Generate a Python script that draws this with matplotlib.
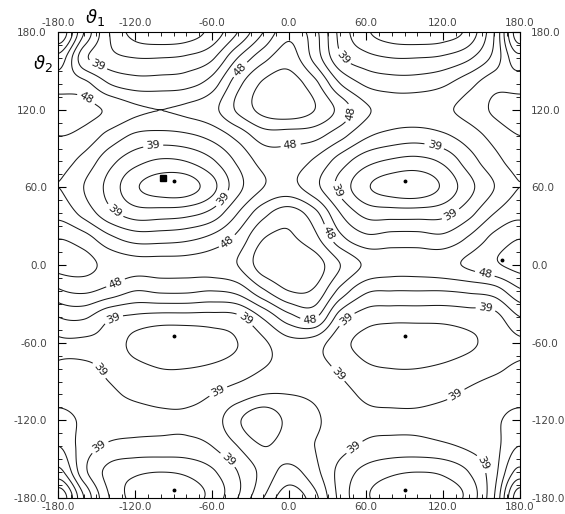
import numpy as np
import matplotlib
matplotlib.use('Agg')
import matplotlib.pyplot as plt
from matplotlib.ticker import MultipleLocator

# ---- data: energy on a 20 degree grid ----
theta1 = np.arange(-180, 180, 20)          # columns
theta2_rows = np.arange(180, -180, -20)    # rows, top to bottom
r180 = [56, 45, 36, 32, 31, 31.5, 34, 39, 45, 50, 46, 38, 33.5, 31.5, 31, 31.5, 34, 42]
r160 = [50, 40, 37, 36, 36, 36.5, 38.5, 45, 50, 52.5, 47, 39.5, 37, 36, 36, 36.5, 38.5, 43]
r140 = [47, 46, 42, 40.5, 40.5, 41, 43.5, 50, 54.5, 55.5, 52, 45, 41.5, 40.5, 40.5, 41.5, 44, 47]
r120 = [50, 49, 47.5, 45.5, 45, 45.5, 47, 51.5, 55, 56, 54, 50, 45.5, 44, 44, 44.5, 46, 48.5]
r100 = [48, 47, 44, 41.5, 41, 41.5, 43, 46, 49.5, 49.5, 49, 46, 42.5, 41, 40.5, 41.5, 43.5, 46]
r80 = [46, 44, 40, 37, 35.5, 36, 38.5, 42.5, 46, 46.5, 44.5, 40.5, 37, 35.5, 35, 36.5, 40.5, 44]
r60 = [45, 42, 38, 33.5, 31.5, 31.5, 35, 41, 45, 46, 43, 38, 33.5, 31.5, 31, 33.5, 38, 42]
r40 = [47, 44, 40, 37.5, 37.5, 38, 40, 45, 50, 52.5, 49, 42, 38, 37.5, 37.5, 38, 41, 45]
r20 = [51, 49.5, 46, 44, 44, 44.5, 46, 49, 54, 54.5, 52, 46, 43, 43.5, 43.5, 43, 45.5, 49]
r0 = [52, 52, 50, 49, 49, 49, 49.5, 51, 55.5, 56, 55.5, 51, 47.5, 46.5, 46.5, 47, 48.5, 50.5]
rm20 = [47.5, 48.5, 47, 45, 45.5, 45.5, 45, 46, 50.5, 54, 53.5, 47, 42.5, 42, 42, 42, 42.5, 43.5]
rm40 = [42, 42.5, 39.5, 38.5, 38, 38, 38, 38.5, 42.5, 47, 48.5, 40.5, 37.5, 37, 37, 37, 37.5, 38]
rm60 = [38.5, 38.5, 38, 35, 33.5, 33.5, 34.5, 36, 38.5, 41, 40.5, 37, 35, 34, 34, 34.5, 35.5, 37]
rm80 = [39.5, 39.5, 38.5, 37, 36, 36, 36.5, 37.5, 39, 40, 40, 38.5, 36.5, 36, 36, 36.5, 37.5, 38.5]
rm100 = [41, 40.5, 39.5, 38.5, 38, 38, 39, 40.5, 42, 42, 41.5, 40, 38.5, 38, 38, 38.5, 39.5, 40.5]
rm120 = [43, 41.5, 40.5, 40, 39.5, 39.5, 40.5, 44.5, 47.5, 44, 42.5, 40.5, 39.5, 39.5, 39.5, 40, 40.5, 41.5]
rm140 = [45, 40.5, 38.5, 38, 38, 38, 39, 42, 45, 43.5, 42, 40, 38.5, 38, 38, 38.5, 39.5, 41]
rm160 = [49, 40, 35, 33.5, 33, 33.5, 35.5, 39, 43, 46, 43, 38, 35, 33.5, 33, 33.5, 36, 41]

plain_levels = [33, 36, 42, 45, 51, 54]
label_levels = [39, 48]
label_pos = [(-150, 152), (-157, 130), (-106, 94), (-137, 40), (-50, 50), (-38, 151),
             (-44, 13), (38, 157), (49, 117), (1, 95), (114, 95), (34, 56), (128, 36),
             (32, 25), (16, -37), (-32, -39), (44, -41), (-137, -10), (-137, -41),
             (-153, -85), (-55, -98), (-147, -141), (-48, -151), (36, -86), (128, -97),
             (48, -137), (143, -157), (154, -27), (153, -5)]
square_x, square_y = [-98], [67]
dot_x = [-90, 90, -90, 90, -90, 90, 166]
dot_y = [65, 65, -55, -55, -174, -174, 4]
tick_vals = [-180, -120, -60, 0, 60, 120, 180]

# ---- grid (periodic) ----
rows_top_down = np.array([r180, r160, r140, r120, r100, r80, r60, r40, r20, r0,
                          rm20, rm40, rm60, rm80, rm100, rm120, rm140, rm160], float)
G = np.roll(rows_top_down[::-1], 1, axis=0)   # rows now t2 = -180, -160, ..., 160
n = G.shape[0]
fine = np.linspace(-180, 180, 361)


def cr_matrix(ncoarse, step, pts):
    s = (pts + 180.0) / step
    i0 = np.floor(s).astype(int)
    t = s - i0
    ws = [(-t**3 + 2*t**2 - t) / 2, (3*t**3 - 5*t**2 + 2) / 2,
          (-3*t**3 + 4*t**2 + t) / 2, (t**3 - t**2) / 2]
    W = np.zeros((len(pts), ncoarse))
    idx = np.arange(len(pts))
    for k, w in zip([-1, 0, 1, 2], ws):
        np.add.at(W, (idx, (i0 + k) % ncoarse), w)
    return W


W = cr_matrix(n, 20.0, fine)
Z = W @ G @ W.T

fig = plt.figure(figsize=(5.65, 5.14), dpi=100)
ax = fig.add_axes([58/565, 16/514, 462/565, 466/514])
ax.contour(fine, fine, Z, levels=plain_levels, colors='#1a1a1a', linewidths=0.75)
cs = ax.contour(fine, fine, Z, levels=label_levels, colors='#1a1a1a', linewidths=0.75)
ax.clabel(cs, manual=label_pos, fmt='%d', fontsize=8, inline=True, inline_spacing=3)
ax.plot(square_x, square_y, 's', ms=4.5, color='k')
ax.plot(dot_x, dot_y, 'o', ms=1.8, color='k')

ax.set_xlim(-180, 180)
ax.set_ylim(-180, 180)
ax.set_xticks(tick_vals)
ax.set_yticks(tick_vals)
ax.set_xticklabels([f'{v:.1f}' for v in tick_vals])
ax.set_yticklabels([f'{v:.1f}' for v in tick_vals])
ax.xaxis.set_minor_locator(MultipleLocator(10))
ax.yaxis.set_minor_locator(MultipleLocator(10))
ax.tick_params(which='major', direction='in', length=6, width=0.8, top=True, right=True,
               labeltop=True, labelright=True, labelsize=7.5, labelcolor='#444444')
ax.tick_params(which='minor', direction='in', length=3, width=0.6, top=True, right=True)
ax.tick_params(axis='x', which='major', pad=3)
ax.tick_params(axis='y', which='major', pad=8)
for sp in ax.spines.values():
    sp.set_linewidth(0.8)

fig.text(95/565, 1 - 17/514, r'$\vartheta_1$', fontsize=13, ha='center', va='center')
fig.text(43/565, 1 - 63/514, r'$\vartheta_2$', fontsize=13, ha='center', va='center')

fig.savefig('out.png', dpi=100)
